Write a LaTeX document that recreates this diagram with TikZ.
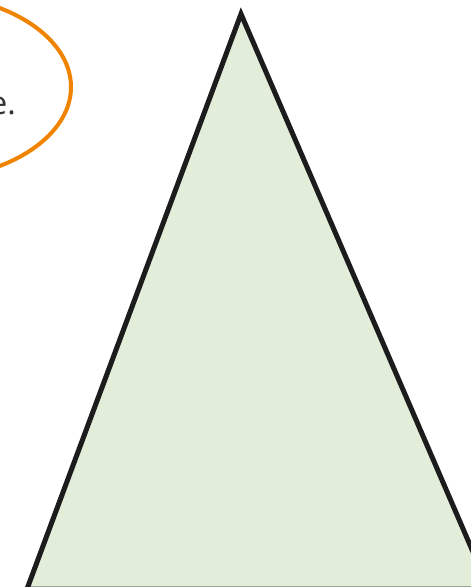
\documentclass[tikz,border=0pt]{standalone}
\usepackage{fontspec}
\setmainfont{Open Sans}
\usetikzlibrary{shapes.geometric}
\definecolor{trifill}{HTML}{E2EDDA}
\definecolor{tristroke}{HTML}{1C1C1C}
\definecolor{bubble}{HTML}{F08300}
\definecolor{txt}{HTML}{333333}
\tikzset{
  tri/.style={fill=trifill,draw=tristroke,line width=5pt,line join=miter},
  bubbleline/.style={draw=bubble,line width=4pt},
}
\begin{document}
\begin{tikzpicture}[x=1pt,y=-1pt]
\useasboundingbox (0,0) rectangle (471,587);
\clip (0,0) rectangle (471,587);
\coordinate (apex) at (241,14);
\coordinate (bl) at (27,589);
\coordinate (br) at (489,589);
\draw[tri] (apex) -- (br) -- (bl) -- cycle;
\draw[bubbleline] (-80,87) ellipse [x radius=151, y radius=93];
\node[anchor=base east,inner sep=0pt,text=txt,font=\fontsize{32}{38}\selectfont] (label) at (16,114) {e.};
\end{tikzpicture}
\end{document}
